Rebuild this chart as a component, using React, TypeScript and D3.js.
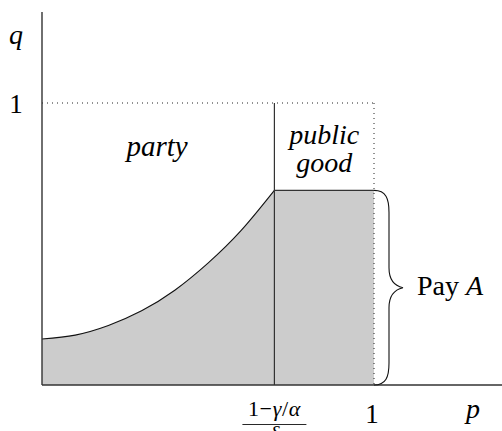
import * as React from "react"
import * as d3 from "d3"

// values (p on x, q on y)
const curveP = [0, 0.1, 0.2, 0.3, 0.4, 0.5, 0.6, 0.7]
const curveQ = [0.163, 0.177, 0.211, 0.263, 0.336, 0.432, 0.548, 0.69]
const threshold = 0.7
const publicGoodQ = 0.69
const regionLabels = ["party", "public", "good"]
const braceLabel = ["Pay ", "A"]

const W = 502
const H = 431
const serif = "Liberation Serif"

export default function App() {
  const x = d3.scaleLinear().domain([0, 1]).range([42, 374])
  const y = d3.scaleLinear().domain([0, 1]).range([385, 103])

  const pts: [number, number][] = curveP.map((p, i) => [p, curveQ[i]])

  const line = d3
    .line<[number, number]>()
    .x((d) => x(d[0]))
    .y((d) => y(d[1]))
    .curve(d3.curveNatural)

  // shaded area under the curve, then the flat public good block
  const area = d3
    .area<[number, number]>()
    .x((d) => x(d[0]))
    .y0(y(0))
    .y1((d) => y(d[1]))
    .curve(d3.curveNatural)

  const bx = x(1)
  const bTop = y(publicGoodQ)
  const bBot = y(0)
  const bMid = (bTop + bBot) / 2
  const bv = bx + 15
  const tip = bx + 29
  const brace =
    `M${bx},${bTop} C${bx + 12},${bTop} ${bv},${bTop + 8} ${bv},${bTop + 22} ` +
    `L${bv},${bMid - 20} C${bv},${bMid - 8} ${bv + 5},${bMid - 2} ${tip},${bMid} ` +
    `C${bv + 5},${bMid + 2} ${bv},${bMid + 8} ${bv},${bMid + 20} ` +
    `L${bv},${bBot - 22} C${bv},${bBot - 8} ${bx + 12},${bBot} ${bx},${bBot}`

  const stroke = "#222"
  const txt: React.CSSProperties = { fontFamily: serif }
  const mid = (x(threshold) + x(1)) / 2

  return (
    <svg
      width={W}
      height={H}
      viewBox={`0 0 ${W} ${H}`}
      style={{ position: "absolute", left: 0, top: 0, background: "#fff" }}
    >
      {/* shaded region */}
      <path d={area(pts) || ""} fill="#cccccc" />
      <rect
        x={x(threshold)}
        y={y(publicGoodQ)}
        width={x(1) - x(threshold)}
        height={y(0) - y(publicGoodQ)}
        fill="#cccccc"
      />

      {/* dotted q = 1 and p = 1 */}
      <line x1={x(0)} x2={x(1)} y1={y(1)} y2={y(1)} stroke={stroke} strokeWidth={1} strokeDasharray="1 4" />
      <line x1={x(1)} x2={x(1)} y1={y(1)} y2={y(0)} stroke={stroke} strokeWidth={1} strokeDasharray="1 4" />

      {/* curve and boundaries */}
      <path d={line(pts) || ""} fill="none" stroke="#111" strokeWidth={1.1} />
      <line x1={x(threshold)} x2={x(threshold)} y1={y(1)} y2={y(0)} stroke="#333" strokeWidth={1.2} />
      <line x1={x(threshold)} x2={x(1)} y1={y(publicGoodQ)} y2={y(publicGoodQ)} stroke="#333" strokeWidth={1.2} />

      {/* axes */}
      <line x1={x(0)} x2={x(0)} y1={y(0)} y2={12} stroke="#333" strokeWidth={1.4} />
      <line x1={x(0)} x2={W} y1={y(0)} y2={y(0)} stroke="#333" strokeWidth={1.4} />

      {/* brace */}
      <path d={brace} fill="none" stroke="#111" strokeWidth={1.1} />
      <text x={417} y={295} fontSize={28} style={txt}>
        {braceLabel[0]}
        <tspan fontStyle="italic">{braceLabel[1]}</tspan>
      </text>

      {/* region labels */}
      <text x={157} y={156} fontSize={29} fontStyle="italic" textAnchor="middle" style={txt}>
        {regionLabels[0]}
      </text>
      <text x={mid} y={144} fontSize={28} fontStyle="italic" textAnchor="middle" style={txt}>
        {regionLabels[1]}
      </text>
      <text x={mid} y={172} fontSize={28} fontStyle="italic" textAnchor="middle" style={txt}>
        {regionLabels[2]}
      </text>

      {/* axis labels */}
      <text x={16} y={44} fontSize={28} fontStyle="italic" textAnchor="middle" style={txt}>q</text>
      <text x={16} y={y(1) + 10} fontSize={27} textAnchor="middle" style={txt}>1</text>
      <text x={x(1) - 2} y={423} fontSize={27} textAnchor="middle" style={txt}>1</text>
      <text x={473} y={418} fontSize={28} fontStyle="italic" textAnchor="middle" style={txt}>p</text>

      {/* threshold fraction */}
      <text x={x(threshold)} y={416} fontSize={22} textAnchor="middle" letterSpacing={0.6} style={txt}>
        1−<tspan fontStyle="italic">γ</tspan>/<tspan fontStyle="italic">α</tspan>
      </text>
      <line x1={x(threshold) - 32} x2={x(threshold) + 32} y1={424.5} y2={424.5} stroke="#111" strokeWidth={0.9} />
      <text x={x(threshold)} y={441} fontSize={22} fontStyle="italic" textAnchor="middle" style={txt}>δ</text>
    </svg>
  )
}
